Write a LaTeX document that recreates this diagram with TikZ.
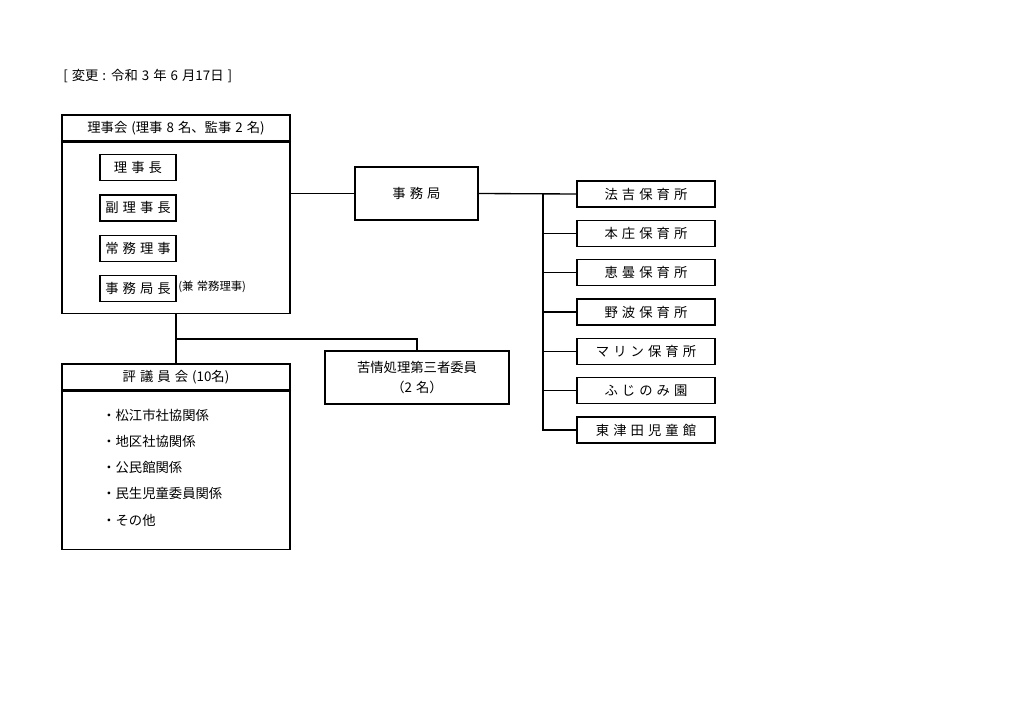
\documentclass[tikz,border=0pt]{standalone}
\usepackage{fontspec}
\setmainfont{Noto Sans CJK JP}[WordSpace=1.35]
\usetikzlibrary{positioning}
\tikzset{
  box/.style={draw, line width=1pt, inner sep=0pt, font=\fontsize{10}{15.5}\selectfont},
  role/.style={box, minimum width=57pt, minimum height=19.5pt},
  branch/.style={box, minimum width=103.5pt, minimum height=19.5pt},
  wide/.style={box, minimum width=171pt, minimum height=19.5pt},
  label/.style={inner sep=0pt, font=\fontsize{10}{12}\selectfont},
  link/.style={line width=1pt}
}

\begin{document}
\begin{tikzpicture}[x=0.75pt, y=-0.75pt]
		\useasboundingbox (0,0) rectangle (1024,724);
		\node[label, anchor=west] (title) at (63,76) {[ 変更 : 令和 3 年 6 月17日 ]};
		% 理事会
		\node[wide] (board) at (176,128) {理事会 (理事 8 名、監事 2 名)};
		\node[wide, minimum height=128.25pt, below=0pt of board] (boardbody) {};
		\node[role] (chair) at (138,167.5) {理 事 長};
		\node[role, below=9.75pt of chair] (vice) {副 理 事 長};
		\node[role, below=9.75pt of vice] (director) {常 務 理 事};
		\node[role, below=9.75pt of director] (secgen) {事 務 局 長};
		\node[label, anchor=west, font=\fontsize{8.5}{10}\selectfont] (note) at (178,287) {(兼 常務理事)};
		% 事務局
		\node[box, minimum width=92.25pt, minimum height=39.75pt] (office) at (416.5,193.5) {事 務 局};
		\draw[link] (office.west -| boardbody.east) -- (office.west);
		% 各施設
		\foreach \name [count=\i] in {法 吉 保 育 所, 本 庄 保 育 所, 恵 曇 保 育 所, 野 波 保 育 所, マ リ ン 保 育 所, ふ じ の み 園, 東 津 田 児 童 館}
			\node[branch] (n\i) at (646,{194+39.33*(\i-1)}) {\name};
		\coordinate (trunk) at (543,194);
		\draw[link] (office.east) -- (n1.west);
		\draw[link] (trunk) |- (n7.west);
		\foreach \i in {2,...,6} \draw[link] (trunk |- n\i.west) -- (n\i.west);
		% 評議員会・苦情処理
		\node[wide] (council) at (176,377) {評 議 員 会 (10名)};
		\node[wide, minimum height=118.5pt, below=0pt of council] (councilbody) {};
		\node[box, minimum width=138pt, minimum height=39.75pt, align=center] (complaint) at (417,377.5) {苦情処理第三者委員\\（2 名）};
		\coordinate (split) at (176,339);
		\draw[link] (boardbody.south) -- (council.north);
		\draw[link] (split) -| (complaint.north);
		\foreach \name [count=\i] in {・松江市社協関係, ・地区社協関係, ・公民館関係, ・民生児童委員関係, ・その他}
			\node[label, anchor=west] (m\i) at (102,{415+26.25*(\i-1)}) {\name};
	\end{tikzpicture}
\end{document}
